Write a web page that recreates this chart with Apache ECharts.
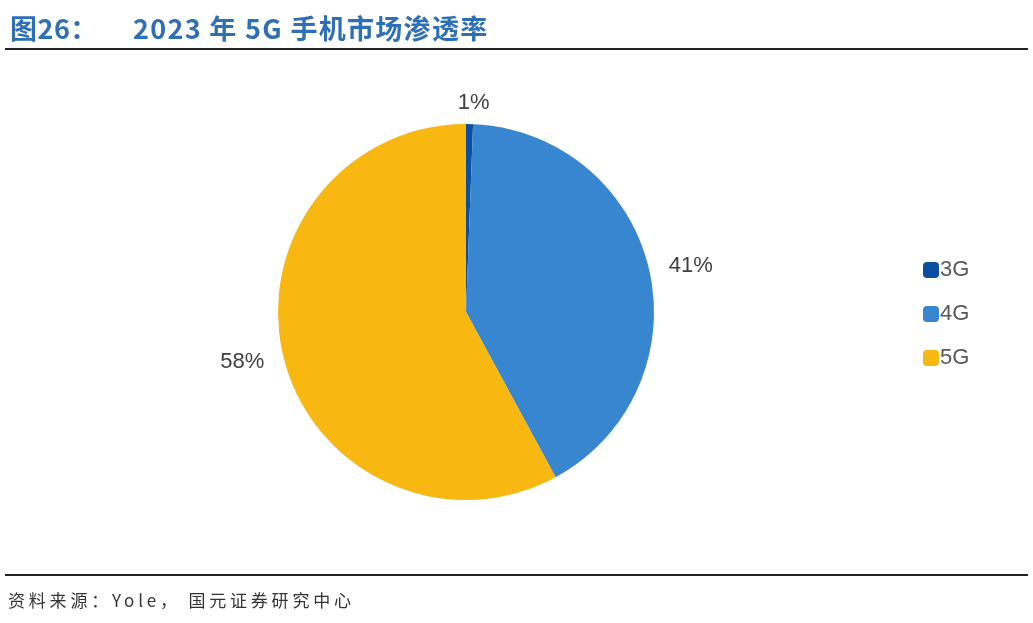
<!DOCTYPE html>
<html><head><meta charset="utf-8">
<script src="https://cdn.jsdelivr.net/npm/echarts@6/dist/echarts.min.js"></script>
<style>
html,body{margin:0;padding:0;background:#fff;}
#wrap{position:relative;width:1033px;height:623px;}
#c{width:1033px;height:623px;}
.t{position:absolute;white-space:nowrap;font-family:"Noto Sans CJK SC";}
#tl{left:10px;top:9px;color:#2F6FB5;font-size:27px;font-weight:bold;letter-spacing:0.5px;line-height:38px;}
#tt{left:133px;top:9px;color:#2F6FB5;font-size:27px;font-weight:bold;letter-spacing:1.3px;line-height:38px;}
#src{left:8px;top:587px;color:#333;font-size:17px;letter-spacing:3.8px;line-height:26px;}
</style>
</head><body><div id="wrap"><div id="c"></div>
<div class="t" id="tl"></div><div class="t" id="tt"></div><div class="t" id="src"></div></div>
<script>
const categories = ['3G', '4G', '5G'];
const shares = [0.6, 41.49, 57.91];
const colors = ['#0B4EA2', '#3885D0', '#F8B711'];
const titleLabel = '图26：';
const titleText = '2023 年 5G 手机市场渗透率';
const sourceText = '资料来源：Yole， 国元证券研究中心';

document.getElementById('tl').textContent = titleLabel;
document.getElementById('tt').textContent = titleText;
document.getElementById('src').textContent = sourceText;

const chart = echarts.init(document.getElementById('c'));
chart.setOption({
  animation: false,
  backgroundColor: '#fff',
  graphic: [
    { type: 'line', shape: { x1: 5, y1: 49, x2: 1028, y2: 49 }, style: { stroke: '#222', lineWidth: 2 } },
    { type: 'line', shape: { x1: 5, y1: 575, x2: 1028, y2: 575 }, style: { stroke: '#222', lineWidth: 2 } }
  ],
  legend: {
    orient: 'vertical', left: 918, top: 254, itemGap: 22,
    itemWidth: 16, itemHeight: 16, icon: 'roundRect',
    textStyle: { color: '#595959', fontSize: 22, fontFamily: 'Liberation Sans', padding: [0,0,0,-4] },
    data: categories
  },
  series: [{
    type: 'pie', center: [466, 312], radius: 188, startAngle: 90, clockwise: true,
    color: colors,
    label: {
      show: true, position: 'outside', color: '#404040', fontSize: 22, fontFamily: 'Liberation Sans',
      formatter: p => Math.round(p.value) + '%'
    },
    labelLine: { show: false, length: 15, length2: 0 },
    itemStyle: { borderColor: '#fff', borderWidth: 0 },
    emphasis: { disabled: true },
    data: categories.map((c, i) => ({
      name: c, value: shares[i],
      label: i === 0 ? { offset: [-17, -6] } : undefined
    }))
  }]
});
</script></body></html>
